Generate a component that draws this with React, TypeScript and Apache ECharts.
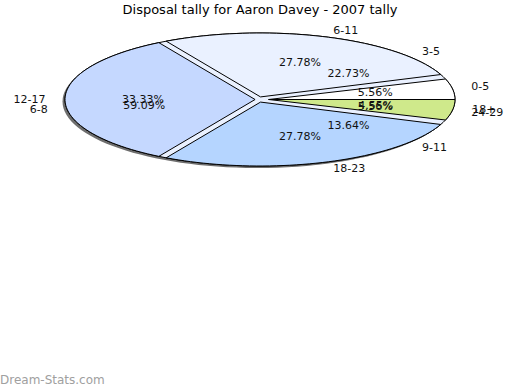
import React, { useEffect, useRef } from "react";
import * as echarts from "echarts";

const TITLE = "Disposal tally for Aaron Davey - 2007 tally";
const pie1Labels = ["0-5", "6-11", "12-17", "18-23", "24-29"];
const pie1Values = [1, 5, 6, 5, 1];
const pie1Colors = ["#ffffff", "#eaf1ff", "#c5d8ff", "#b5d5ff", "#cfe98b"];
const pie2Labels = ["3-5", "6-8", "9-11", "18+"];
const pie2Values = [5, 13, 3, 1];
const WATERMARK = "Dream-Stats.com";

const CX = 260;
const CY = 99.5;
const RX = 195;
const RY = 66.5;
const GAP = 2.5;
const FONT = "11px 'DejaVu Sans'";

function toFractions(values: number[]) {
  const total = values.reduce((a, b) => a + b, 0);
  let acc = 0;
  return values.map((v) => {
    const s = acc / total;
    acc += v;
    return [s, acc / total, v / total];
  });
}

function P(deg: number) {
  const r = (deg * Math.PI) / 180;
  return [CX + RX * Math.cos(r), CY - RY * Math.sin(r)];
}

function norm(v: number[]) {
  const l = Math.hypot(v[0], v[1]);
  return [v[0] / l, v[1] / l];
}

function lineEllipse(q: number[], u: number[]) {
  const ax = (q[0] - CX) / RX, bx = u[0] / RX;
  const ay = (q[1] - CY) / RY, by = u[1] / RY;
  const A = bx * bx + by * by;
  const B = 2 * (ax * bx + ay * by);
  const C = ax * ax + ay * ay - 1;
  const t = (-B + Math.sqrt(B * B - 4 * A * C)) / (2 * A);
  const x = q[0] + t * u[0];
  const y = q[1] + t * u[1];
  return (Math.atan2(-(y - CY) / RY, (x - CX) / RX) * 180) / Math.PI;
}

function intersect(c1: number[], v1: number[], c2: number[], v2: number[]) {
  const d = [c2[0] - c1[0], c2[1] - c1[1]];
  const det = -v1[0] * v2[1] + v2[0] * v1[1];
  if (Math.abs(det) < 1e-9) return c1;
  const t = (d[0] * -v2[1] + v2[0] * d[1]) / det;
  return [c1[0] + t * v1[0], c1[1] + t * v1[1]];
}

function slicePoints(a1: number, a2: number) {
  const p1 = P(a1), p2 = P(a2), pm = P((a1 + a2) / 2);
  const u1 = norm([p1[0] - CX, p1[1] - CY]);
  const u2 = norm([p2[0] - CX, p2[1] - CY]);
  const m = [pm[0] - CX, pm[1] - CY];
  const pick = (u: number[]) => {
    const n = [-u[1], u[0]];
    return n[0] * m[0] + n[1] * m[1] > 0 ? n : [u[1], -u[0]];
  };
  const n1 = pick(u1), n2 = pick(u2);
  const g1 = Math.abs(a1 % 360) > 0.01 ? GAP : 0;
  const g2 = Math.abs(a2 % 360) > 0.01 ? GAP : 0;
  const q1 = [CX + n1[0] * g1, CY + n1[1] * g1];
  const q2 = [CX + n2[0] * g2, CY + n2[1] * g2];
  let f1 = lineEllipse(q1, u1);
  let f2 = lineEllipse(q2, u2);
  while (f1 < a1 - 90) f1 += 360;
  while (f2 < f1) f2 += 360;
  let inner = intersect(q1, u1, q2, u2);
  if (Math.hypot(inner[0] - CX, inner[1] - CY) > 9) {
    // narrow slice: taper the edges towards the centre
    const o1 = P(f1), o2 = P(f2);
    const c1 = [CX + n1[0] * g1 * 0.4, CY + n1[1] * g1 * 0.4];
    const c2 = [CX + n2[0] * g2 * 0.4, CY + n2[1] * g2 * 0.4];
    inner = intersect(c1, [o1[0] - c1[0], o1[1] - c1[1]], c2, [o2[0] - c2[0], o2[1] - c2[1]]);
  }
  const pts: number[][] = [inner];
  const steps = Math.max(4, Math.ceil((f2 - f1) / 2));
  for (let i = 0; i <= steps; i++) pts.push(P(f1 + ((f2 - f1) * i) / steps));
  return pts;
}

function labelEls(mid: number, pct: string, name: string) {
  const r = (mid * Math.PI) / 180;
  const c = Math.cos(r), s = Math.sin(r);
  return [
    {
      type: "text",
      style: {
        text: pct,
        x: CX + RX * 0.6 * c,
        y: CY - RY * 0.6 * s,
        fill: "#111",
        font: FONT,
        align: "center",
        verticalAlign: "middle",
      },
    },
    {
      type: "text",
      style: {
        text: name,
        x: CX + RX * 1.1 * c,
        y: CY - RY * 1.1 * s,
        fill: "#111",
        font: FONT,
        align: c >= 0 ? "left" : "right",
        verticalAlign: "middle",
      },
    },
  ];
}

const pie1Data = toFractions(pie1Values);
const pie2Data = toFractions(pie2Values);

export default function App() {
  const ref = useRef<HTMLDivElement>(null);
  useEffect(() => {
    document.body.style.margin = "0";
    const chart = echarts.init(ref.current!, null, { renderer: "svg" });
    chart.setOption({
      animation: false,
      backgroundColor: "#ffffff",
      title: {
        text: TITLE,
        left: "center",
        top: 3,
        padding: 0,
        textStyle: { fontSize: 13, fontWeight: "normal", fontFamily: "DejaVu Sans", color: "#000" },
      },
      graphic: [
        {
          type: "ellipse",
          z: 0,
          shape: { cx: CX - 2.5, cy: CY + 2, rx: RX, ry: RY },
          style: { fill: "#6e6e6e", stroke: "none" },
        },
        {
          type: "ellipse",
          z: 0,
          shape: { cx: CX, cy: CY, rx: RX, ry: RY },
          style: { fill: "#eaf1ff", stroke: "#000", lineWidth: 1 },
        },
        {
          type: "text",
          left: 0,
          top: 374,
          style: { text: WATERMARK, fill: "#a0a0a0", font: "12px 'DejaVu Sans'" },
        },
      ],
      series: [
        {
          type: "custom",
          coordinateSystem: "none",
          data: pie1Data,
          renderItem: (params: any, api: any) => {
            const a1 = api.value(0) * 360;
            const a2 = api.value(1) * 360;
            const i = params.dataIndex;
            const pct = (api.value(2) * 100).toFixed(2) + "%";
            return {
              type: "group",
              children: [
                {
                  type: "polygon",
                  shape: { points: slicePoints(a1, a2) },
                  style: { fill: pie1Colors[i], stroke: "#000", lineWidth: 1 },
                },
                ...labelEls((a1 + a2) / 2, pct, pie1Labels[i]),
              ],
            };
          },
        },
        {
          type: "custom",
          coordinateSystem: "none",
          data: pie2Data,
          renderItem: (params: any, api: any) => {
            const a1 = api.value(0) * 360;
            const a2 = api.value(1) * 360;
            const i = params.dataIndex;
            const pct = (api.value(2) * 100).toFixed(2) + "%";
            return {
              type: "group",
              children: labelEls((a1 + a2) / 2, pct, pie2Labels[i]),
            };
          },
        },
      ],
    });
    return () => chart.dispose();
  }, []);
  return <div ref={ref} style={{ width: 520, height: 390 }} />;
}
